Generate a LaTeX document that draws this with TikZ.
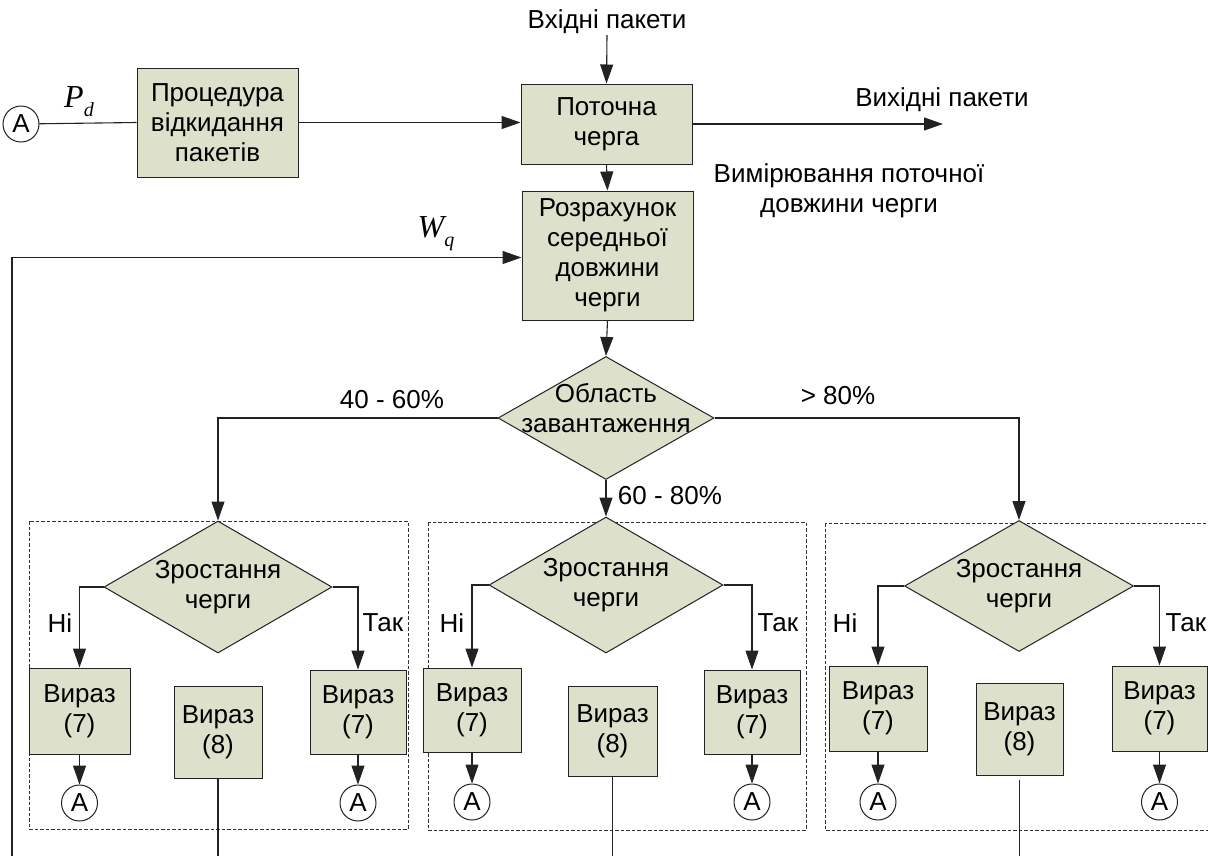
\documentclass[tikz,border=0pt]{standalone}
\usepackage{fontspec}
\setmainfont{Liberation Sans}
\newfontfamily\tnr{Liberation Serif}
\usetikzlibrary{arrows.meta,shapes.geometric}
\definecolor{boxfill}{HTML}{DDE0CB}
\definecolor{linec}{HTML}{222222}
\tikzset{
  every node/.style={font=\fontsize{26}{30}\selectfont, inner sep=0pt},
  box/.style={draw=linec, fill=boxfill, line width=1pt, align=center},
  dia/.style={diamond, draw=linec, fill=boxfill, line width=1pt},
  txt/.style={align=center},
  conn/.style={draw=linec, line width=1.1pt},
  arr/.style={conn, -{Triangle[length=19pt,width=13pt]}},
  circ/.style={circle, draw=linec, line width=1pt, minimum size=36pt, fill=white},
  dashbox/.style={draw=black!80, line width=1pt, dash pattern=on 3.5pt off 2pt},
}
\begin{document}
\begin{tikzpicture}[x=1pt,y=-1pt]
\useasboundingbox (0,0) rectangle (1208,855);
\clip (0,0) rectangle (1208,855);
\fill[white] (0,0) rectangle (1208,855);

% top part
\node[circ] (a0) at (21,124) {A};
\node[box, minimum width=161, minimum height=109] (proc) at (217.5,122.5) {Процедура\\відкидання\\пакетів};
\node[box, minimum width=171, minimum height=80] (cur) at (606.5,124) {Поточна\\черга};
\node[box, minimum width=171, minimum height=129] (calc) at (607.5,255.5) {Розрахунок\\середньої\\довжини\\черги};
\node[txt] (in) at (607,22) {Вхідні пакети};
\node[txt] (out) at (942,100) {Вихідні пакети};
\coordinate (outend) at (943,124);
\node[txt] (meas) at (849,191) {Вимірювання поточної\\довжини черги};
\node (pd) at (79,102) {{\tnr\itshape\fontsize{32}{32}\selectfont P}\raisebox{-9pt}{\tnr\itshape\fontsize{20}{20}\selectfont d}};
\node (wq) at (436,234) {{\tnr\itshape\fontsize{32}{32}\selectfont W}\raisebox{-9pt}{\tnr\itshape\fontsize{20}{20}\selectfont q}};
\coordinate (fb) at (12,856);

\draw[conn] (a0) -- (proc.west);
\draw[arr] (proc.east) -- (proc.east -| cur.west);
\draw[arr] (in.south) ++(0,1) -- (cur.north);
\draw[arr] (cur.east) -- (outend);
\draw[arr] (cur.south) -- (calc.north);
\draw[arr] (fb) |- ([yshift=-2pt]calc.west);

% main decision
\node[dia, minimum width=216, minimum height=123] (d0) at (606,418) {};
\node[txt] (d0t) at (606,408) {Область\\завантаження};
\node (l1) at (392,400) {40 - 60\%};
\node (l2) at (838,396) {> 80\%};
\node (l3) at (670,496) {60 - 80\%};

% group 1
\draw[dashbox] (29,521) rectangle (408,829);
\node[dia, minimum width=228, minimum height=132] (z1) at (218,587) {};
\node[txt] (z1t) at (218,587) {Зростання\\черги};
\node[box, minimum width=101, minimum height=86] (n1) at (79.5,711) {Вираз\\(7)};
\node[box, minimum width=88, minimum height=92] (e1) at (218,732) {Вираз\\(8)};
\node[box, minimum width=96, minimum height=84] (t1) at (358,712) {Вираз\\(7)};
\node[circ] (a1) at (79.5,803) {A};
\node[circ] (b1) at (358,803) {A};
\node (no1) at (60,623) {Ні};
\node (yes1) at (383,623) {Так};
\coordinate (e1end) at (218,856);

% group 2
\draw[dashbox] (428,522) rectangle (806,830);
\node[dia, minimum width=234, minimum height=136] (z2) at (606,585) {};
\node[txt] (z2t) at (606,585) {Зростання\\черги};
\node[box, minimum width=98, minimum height=84] (n2) at (472,710) {Вираз\\(7)};
\node[box, minimum width=89, minimum height=90] (e2) at (612.5,731) {Вираз\\(8)};
\node[box, minimum width=96, minimum height=84] (t2) at (752,712) {Вираз\\(7)};
\node[circ] (a2) at (472,802) {A};
\node[circ] (b2) at (752,802) {A};
\node (no2) at (452,623) {Ні};
\node (yes2) at (778,623) {Так};
\coordinate (e2end) at (612.5,856);

% group 3
\draw[dashbox] (825,523) rectangle (1220,830);
\node[dia, minimum width=229, minimum height=131] (z3) at (1019,586) {};
\node[txt] (z3t) at (1019,586) {Зростання\\черги};
\node[box, minimum width=98, minimum height=85] (n3) at (878,708.5) {Вираз\\(7)};
\node[box, minimum width=87, minimum height=92] (e3) at (1019.5,729) {Вираз\\(8)};
\node[box, minimum width=95, minimum height=85] (t3) at (1159.5,708.5) {Вираз\\(7)};
\node[circ] (a3) at (878,802) {A};
\node[circ] (b3) at (1159.5,802) {A};
\node (no3) at (845,623) {Ні};
\node (yes3) at (1186,623) {Так};
\coordinate (e3start) at (1019.5,780);
\coordinate (e3end) at (1019.5,856);

% main branches
\draw[arr] (d0.west) -| (z1.north);
\draw[arr] (d0.east) -| (z3.north);
\draw[arr] (d0.south) -- (z2.north);
\draw[arr] (calc.south) -- (d0.north);

% group connectors
\draw[arr] (z1.west) -| (n1.north);
\draw[arr] (z1.east) -| (t1.north);
\draw[arr] (n1.south) -- (a1.north);
\draw[arr] (t1.south) -- (b1.north);
\draw[conn] (e1.south) -- (e1end);

\draw[arr] (z2.west) -| (n2.north);
\draw[arr] (z2.east) -| (t2.north);
\draw[arr] (n2.south) -- (a2.north);
\draw[arr] (t2.south) -- (b2.north);
\draw[conn] (e2.south) -- (e2end);

\draw[arr] (z3.west) -| (n3.north);
\draw[arr] (z3.east) -| (t3.north);
\draw[arr] (n3.south) -- (a3.north);
\draw[arr] (t3.south) -- (b3.north);
\draw[conn] (e3start) -- (e3end);
\end{tikzpicture}
\end{document}
